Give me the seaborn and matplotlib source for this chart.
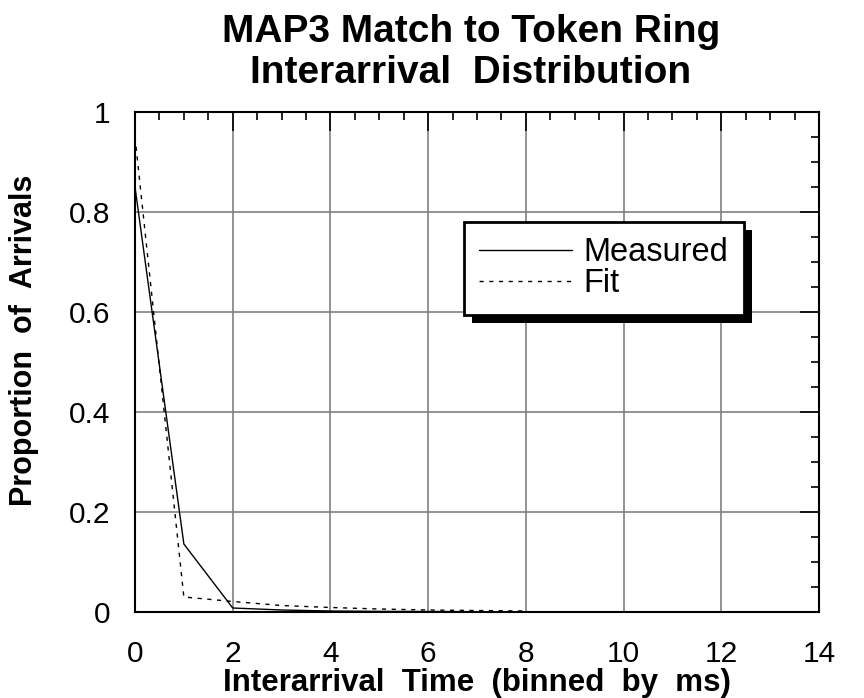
import matplotlib
matplotlib.use("Agg")
import matplotlib.pyplot as plt
from matplotlib.patches import Rectangle
from matplotlib.transforms import IdentityTransform
from matplotlib.ticker import MultipleLocator
import pandas as pd
import seaborn as sns

# Interarrival time bins (ms) and proportions
bins_ms = [0, 1, 2, 3, 4, 5, 6, 7, 8]
measured = [0.85, 0.136, 0.008, 0.004, 0.002, 0.0012, 0.001, 0.0006, 0.0004]
fit = [0.95, 0.030, 0.021, 0.013, 0.009, 0.006, 0.004, 0.003, 0.002]

x_ticks = [0, 2, 4, 6, 8, 10, 12, 14]
y_ticks = [0, 0.2, 0.4, 0.6, 0.8, 1.0]
y_tick_labels = ["0", "0.2", "0.4", "0.6", "0.8", "1"]

title = "MAP3 Match to Token Ring\nInterarrival  Distribution"
x_label = "Interarrival  Time  (binned  by  ms)"
y_label = "Proportion  of  Arrivals"

sns.set_style("white")
plt.rcParams["font.family"] = ["Liberation Sans", "DejaVu Sans"]
plt.rcParams.update({
    "text.color": "black",
    "axes.labelcolor": "black",
    "xtick.color": "black",
    "ytick.color": "black",
})

df = pd.DataFrame({"t": bins_ms, "Measured": measured, "Fit": fit})

fig = plt.figure(figsize=(8.64, 6.98), dpi=100)
ax = fig.add_axes([135 / 864, 86 / 698, 684 / 864, 500 / 698])

sns.lineplot(data=df, x="t", y="Measured", ax=ax, color="black", lw=1.0,
             label="Measured", zorder=3)
sns.lineplot(data=df, x="t", y="Fit", ax=ax, color="black", lw=1.0,
             label="Fit", zorder=3)
ax.lines[1].set_dashes([3, 4])

ax.set_xlim(0, 14)
ax.set_ylim(0, 1)
ax.set_xticks(x_ticks)
ax.set_xticklabels([str(v) for v in x_ticks])
ax.set_yticks(y_ticks)
ax.set_yticklabels(y_tick_labels)
ax.xaxis.set_minor_locator(MultipleLocator(0.5))
ax.yaxis.set_minor_locator(MultipleLocator(0.05))

ax.grid(True, which="major", color="#808080", lw=1.2)
ax.set_axisbelow(True)

ax.tick_params(axis="both", which="both", direction="in", top=True, right=True,
               width=1.2)
ax.tick_params(axis="both", which="major", length=14, labelsize=21.5)
ax.tick_params(axis="both", which="minor", length=6)
ax.tick_params(axis="y", which="major", pad=18)
ax.tick_params(axis="x", which="major", pad=20)

for s in ax.spines.values():
    s.set_color("black")
    s.set_linewidth(1.5)

ax.set_xlabel(x_label, fontsize=22.5, fontweight="bold", labelpad=0)
ax.set_ylabel(y_label, fontsize=22, fontweight="bold")
ax.yaxis.set_label_coords(-0.14, 0.544)
fig.suptitle(title, fontsize=28, fontweight="bold", x=471 / 864, y=0.98,
             linespacing=1.18)

leg = ax.legend(loc="upper left", bbox_to_anchor=(0.481, 0.78),
                borderaxespad=0, fontsize=23.5, handlelength=2.85,
                handletextpad=0.35, labelspacing=0.0, borderpad=0.47,
                fancybox=False, framealpha=1, edgecolor="black")
leg.get_frame().set_linewidth(2.0)
leg.set_zorder(6)

# solid drop shadow behind the legend box
fig.canvas.draw()
bb = leg.get_window_extent()
ax.add_patch(Rectangle((bb.x0 + 8, bb.y0 - 8), bb.width, bb.height,
                       transform=IdentityTransform(), facecolor="black",
                       edgecolor="none", zorder=5.5, clip_on=False))

fig.savefig("out.png", dpi=100)
